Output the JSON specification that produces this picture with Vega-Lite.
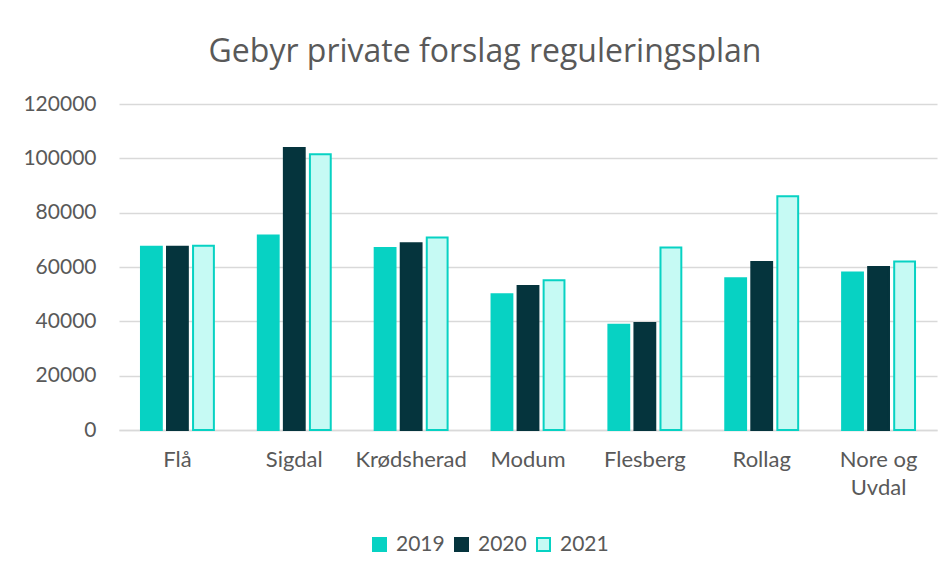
{
  "$schema": "https://vega.github.io/schema/vega-lite/v6.json",
  "width": 818,
  "height": 326,
  "autosize": {"type": "none"},
  "padding": {"left": 119, "top": 104, "right": 14, "bottom": 147},
  "background": "white",
  "title": {
    "text": "Gebyr private forslag reguleringsplan",
    "anchor": "middle",
    "frame": "group",
    "dx": -43,
    "offset": 24,
    "font": "Open Sans",
    "fontSize": 32,
    "fontWeight": "normal",
    "color": "#595959"
  },
  "config": {
    "view": {"stroke": null},
    "font": "Lato"
  },
  "data": {
    "values": [
      {"kommune": "Flå", "year": "2019", "value": 67500},
      {"kommune": "Flå", "year": "2020", "value": 67500},
      {"kommune": "Flå", "year": "2021", "value": 67800},
      {"kommune": "Sigdal", "year": "2019", "value": 71600},
      {"kommune": "Sigdal", "year": "2020", "value": 103800},
      {"kommune": "Sigdal", "year": "2021", "value": 101500},
      {"kommune": "Krødsherad", "year": "2019", "value": 67000},
      {"kommune": "Krødsherad", "year": "2020", "value": 68700},
      {"kommune": "Krødsherad", "year": "2021", "value": 70900},
      {"kommune": "Modum", "year": "2019", "value": 50000},
      {"kommune": "Modum", "year": "2020", "value": 53000},
      {"kommune": "Modum", "year": "2021", "value": 55100},
      {"kommune": "Flesberg", "year": "2019", "value": 38700},
      {"kommune": "Flesberg", "year": "2020", "value": 39400},
      {"kommune": "Flesberg", "year": "2021", "value": 67200},
      {"kommune": "Rollag", "year": "2019", "value": 55900},
      {"kommune": "Rollag", "year": "2020", "value": 61800},
      {"kommune": "Rollag", "year": "2021", "value": 86000},
      {"kommune": "Nore og Uvdal", "year": "2019", "value": 58000},
      {"kommune": "Nore og Uvdal", "year": "2020", "value": 60000},
      {"kommune": "Nore og Uvdal", "year": "2021", "value": 62000}
    ]
  },
  "mark": {"type": "bar", "strokeWidth": 2},
  "encoding": {
    "x": {
      "field": "kommune",
      "type": "nominal",
      "sort": null,
      "scale": {"paddingInner": 0.376, "paddingOuter": 0.188},
      "axis": {
        "title": null,
        "labelAngle": 0,
        "labelFont": "Lato",
        "labelFontSize": 22,
        "labelColor": "#595959",
        "labelPadding": 19,
        "labelLineHeight": 28,
        "labelExpr": "datum.label == 'Nore og Uvdal' ? ['Nore og', 'Uvdal'] : datum.label",
        "ticks": false,
        "domainColor": "#D9D9D9",
        "domainWidth": 1.5
      }
    },
    "xOffset": {
      "field": "year",
      "type": "nominal",
      "scale": {"paddingInner": 0.2, "paddingOuter": 0}
    },
    "y": {
      "field": "value",
      "type": "quantitative",
      "scale": {"domain": [0, 120000]},
      "axis": {
        "title": null,
        "values": [0, 20000, 40000, 60000, 80000, 100000, 120000],
        "format": "d",
        "labelFont": "Lato",
        "labelFontSize": 21,
        "labelColor": "#595959",
        "labelPadding": 23,
        "ticks": false,
        "domain": false,
        "gridColor": "#D9D9D9",
        "gridWidth": 1.5
      }
    },
    "fill": {
      "field": "year",
      "type": "nominal",
      "scale": {"domain": ["2019", "2020", "2021"], "range": ["#07D2C3", "#05343D", "#C6FAF4"]},
      "legend": {
        "title": null,
        "orient": "none",
        "direction": "horizontal",
        "legendX": 250,
        "legendY": 430,
        "symbolType": "square",
        "symbolSize": 169,
        "symbolStrokeWidth": 2,
        "labelFont": "Lato",
        "labelFontSize": 21,
        "labelColor": "#595959",
        "labelOffset": 6,
        "columnPadding": 6
      }
    },
    "stroke": {
      "field": "year",
      "type": "nominal",
      "scale": {"domain": ["2019", "2020", "2021"], "range": ["#07D2C3", "#05343D", "#07D2C3"]},
      "legend": null
    }
  }
}
